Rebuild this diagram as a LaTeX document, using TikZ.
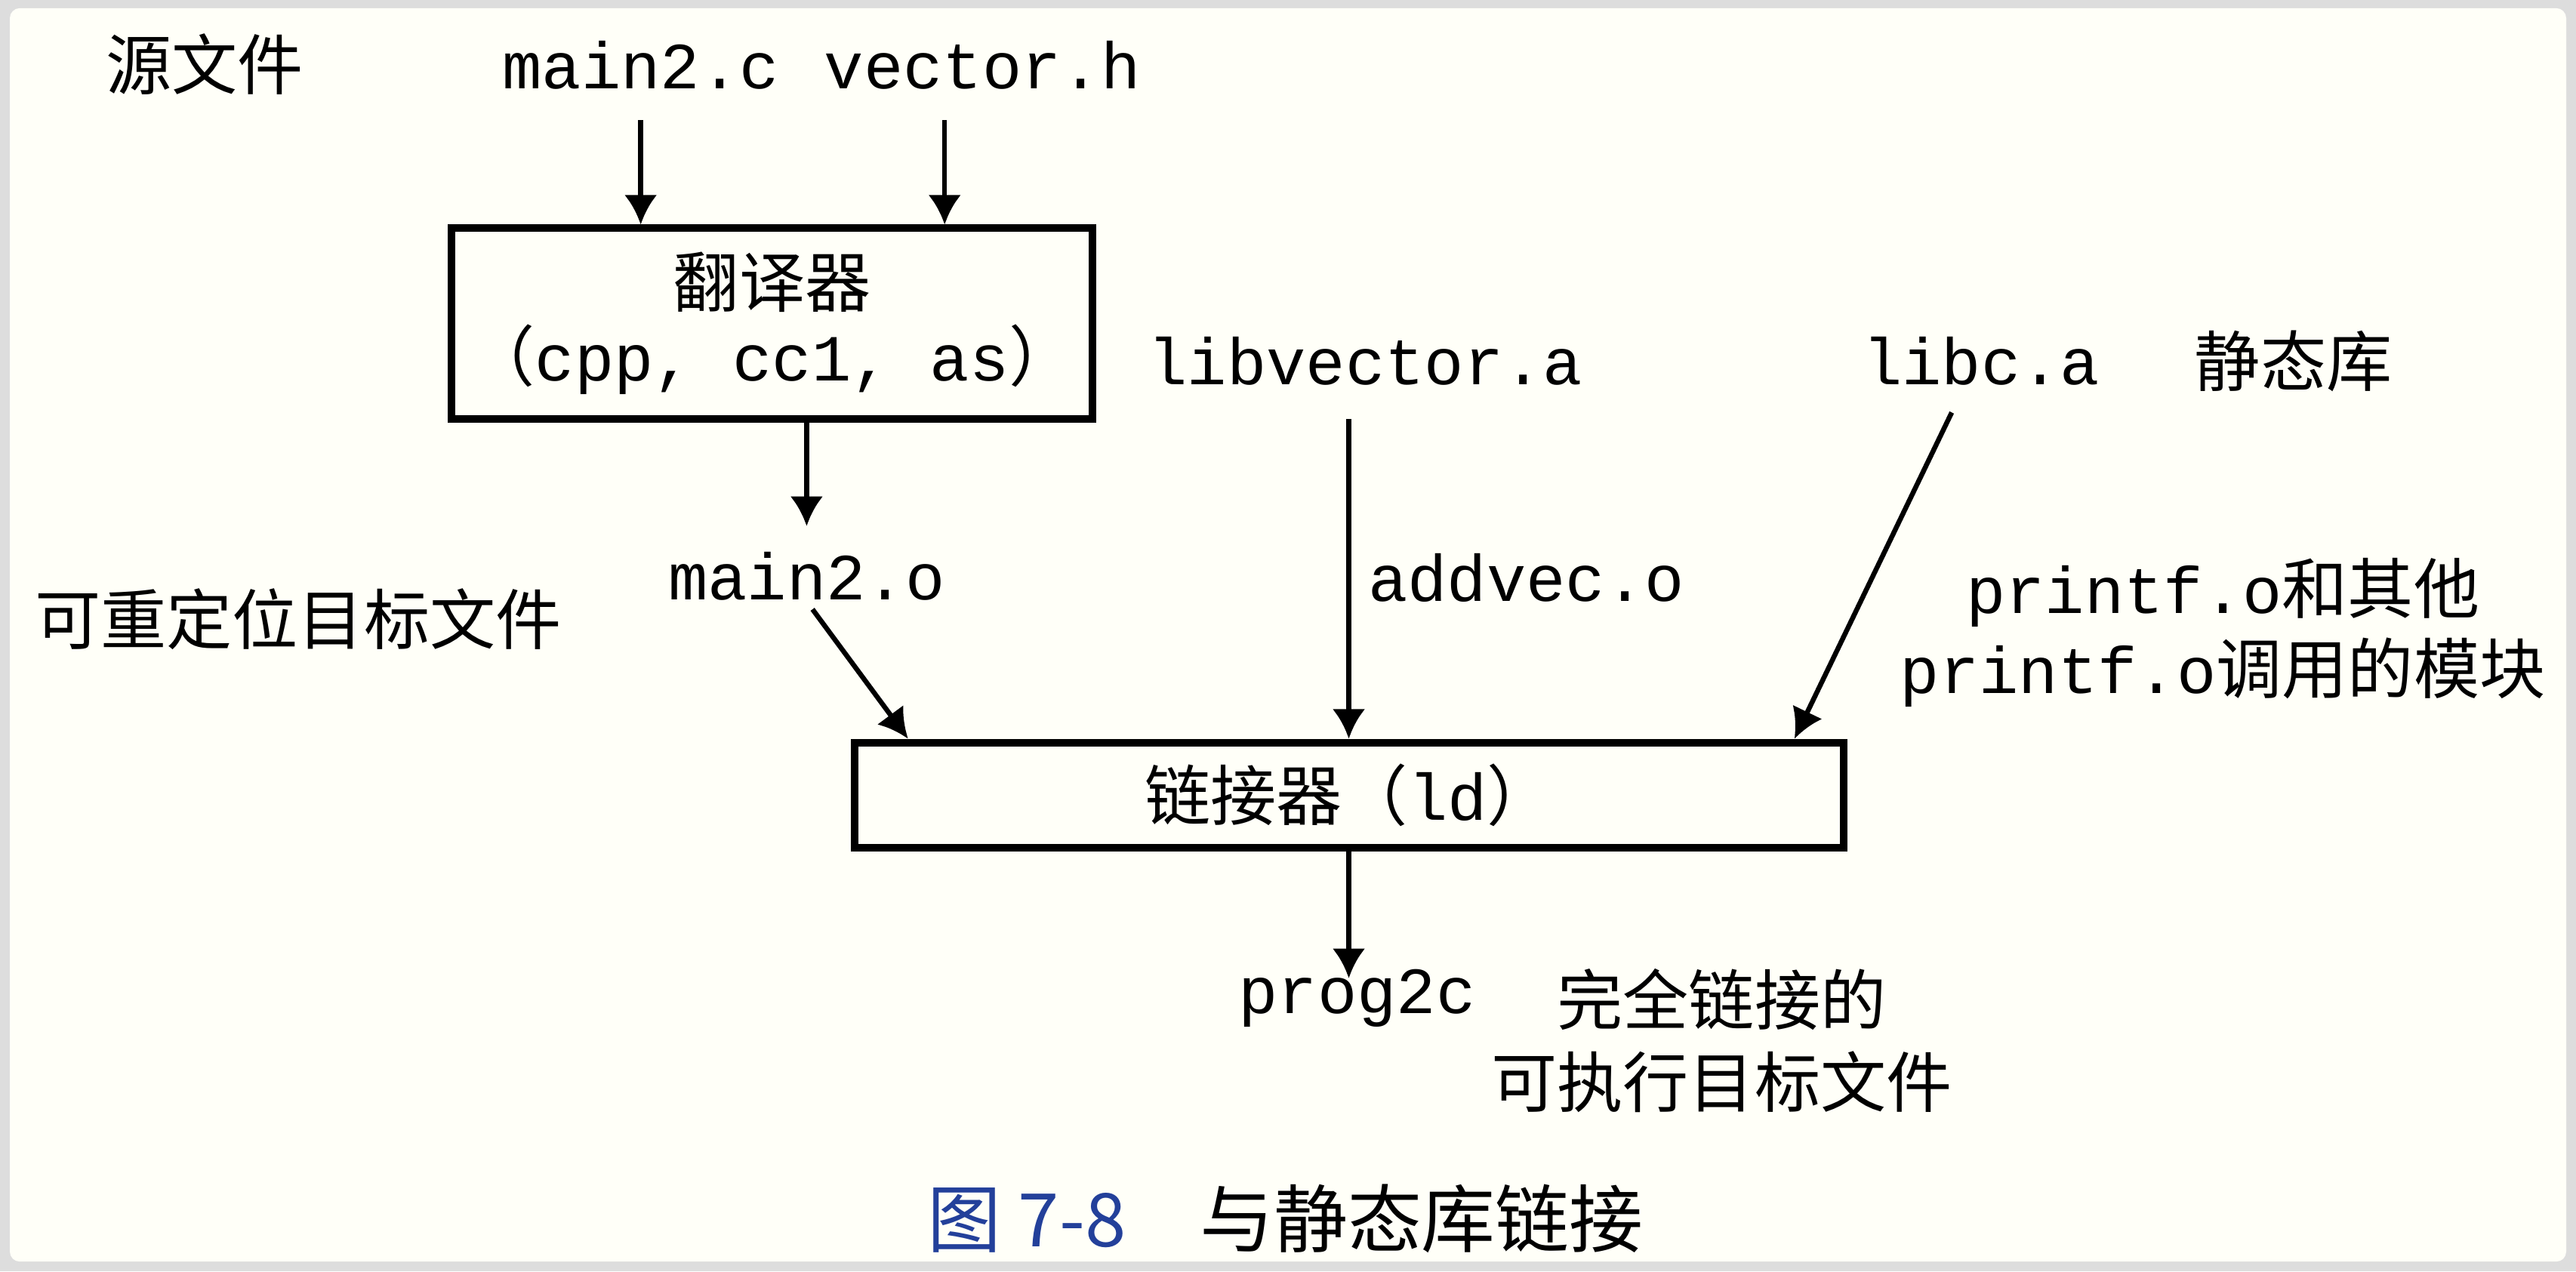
\documentclass[tikz,border=0pt]{standalone}
\usepackage{fontspec}
\setmonofont{Liberation Mono}
\newfontfamily\cjk{Noto Sans CJK SC}
\usetikzlibrary{calc,arrows.meta}
\definecolor{paper}{HTML}{FFFFF8}
\definecolor{edge}{HTML}{DDDDDD}
\definecolor{capblue}{HTML}{23409A}

\begin{document}
\begin{tikzpicture}[
        txt/.style={inner sep=0pt, anchor=base, font=\fontsize{11.4}{13}\selectfont\ttfamily},
        zh/.style={inner sep=0pt, font=\fontsize{11.4}{14}\selectfont\cjk, align=center},
        box/.style={draw, line width=1.3pt, inner sep=0pt, align=center, font=\fontsize{11.4}{12.8}\selectfont\ttfamily},
        arr/.style={line width=0.85pt, -{Latex[length=1.8mm,width=2mm]}}
    ]
            \useasboundingbox (0,0) rectangle (15.68,-7.74);
            \fill [edge] (0,0) rectangle (15.68,-7.74);
            \fill [paper, rounded corners=0.6mm] (0.06,-0.05) rectangle (15.62,-7.68);

            \node (src) at (1.245,-0.39) [zh] {源文件};
            \node (main2c) at (3.90,-0.54) [txt] {main2.c};
            \node (vech) at (5.98,-0.54) [txt] {vector.h};

            \node (trans) at (4.70,-1.97) [box, minimum width=3.90cm, minimum height=1.16cm]
                {{\cjk 翻译器}\\{\cjk （}cpp, cc1, as{\cjk ）}};

            \node (reloc) at (1.815,-3.77) [zh] {可重定位目标文件};
            \node (main2o) at (4.91,-3.65) [txt] {main2.o};
            \node (libvec) at (8.31,-2.34) [txt] {libvector.a};
            \node (addvec) at (9.29,-3.66) [txt] {addvec.o};
            \node (libc) at (12.06,-2.34) [txt] {libc.a};
            \node (static) at (13.96,-2.20) [zh] {静态库};
            \node (printf) at (13.53,-3.85) [zh, font=\fontsize{11.4}{13.9}\selectfont\ttfamily]
                {printf.o{\cjk 和其他}\\printf.o{\cjk 调用的模块}};

            \node (linker) at (8.21,-4.84) [box, minimum width=6.02cm, minimum height=0.64cm]
                {{\cjk 链接器（}ld{\cjk ）}};

            \node (prog) at (8.26,-6.17) [txt] {prog2c};
            \node (exec) at (10.48,-6.335) [zh, font=\fontsize{11.4}{14.2}\selectfont\cjk] {完全链接的\\可执行目标文件};

            \node (cap) at (7.825,-7.42) [zh, font=\fontsize{12.8}{14}\selectfont\cjk]
                {\textcolor{capblue}{图 7-8}\quad 与静态库链接};

            \coordinate (vh) at ($(vech.south)+(-0.23,-0.18)$);
            \coordinate (lc) at ($(libc.south)+(-0.18,-0.16)$);

            \draw [arr, shorten <=1.8mm] (main2c.south) -- (main2c.south |- trans.north);
            \draw [arr] (vh) -- (vh |- trans.north);
            \draw [arr, shorten >=1.5mm] (trans.south -| main2o.north) -- (main2o.north);
            \draw [arr, shorten <=0.6mm] (main2o.south) -- ($(linker.north west)+(0.35,0)$);
            \draw [arr, shorten <=2mm] (libvec.south -| linker.north) -- (linker.north);
            \draw [arr] (lc) -- ($(linker.north east)+(-0.32,0)$);
            \draw [arr, shorten >=-0.6mm] (linker.south) -- (linker.south |- prog.north);

        \end{tikzpicture}
\end{document}
